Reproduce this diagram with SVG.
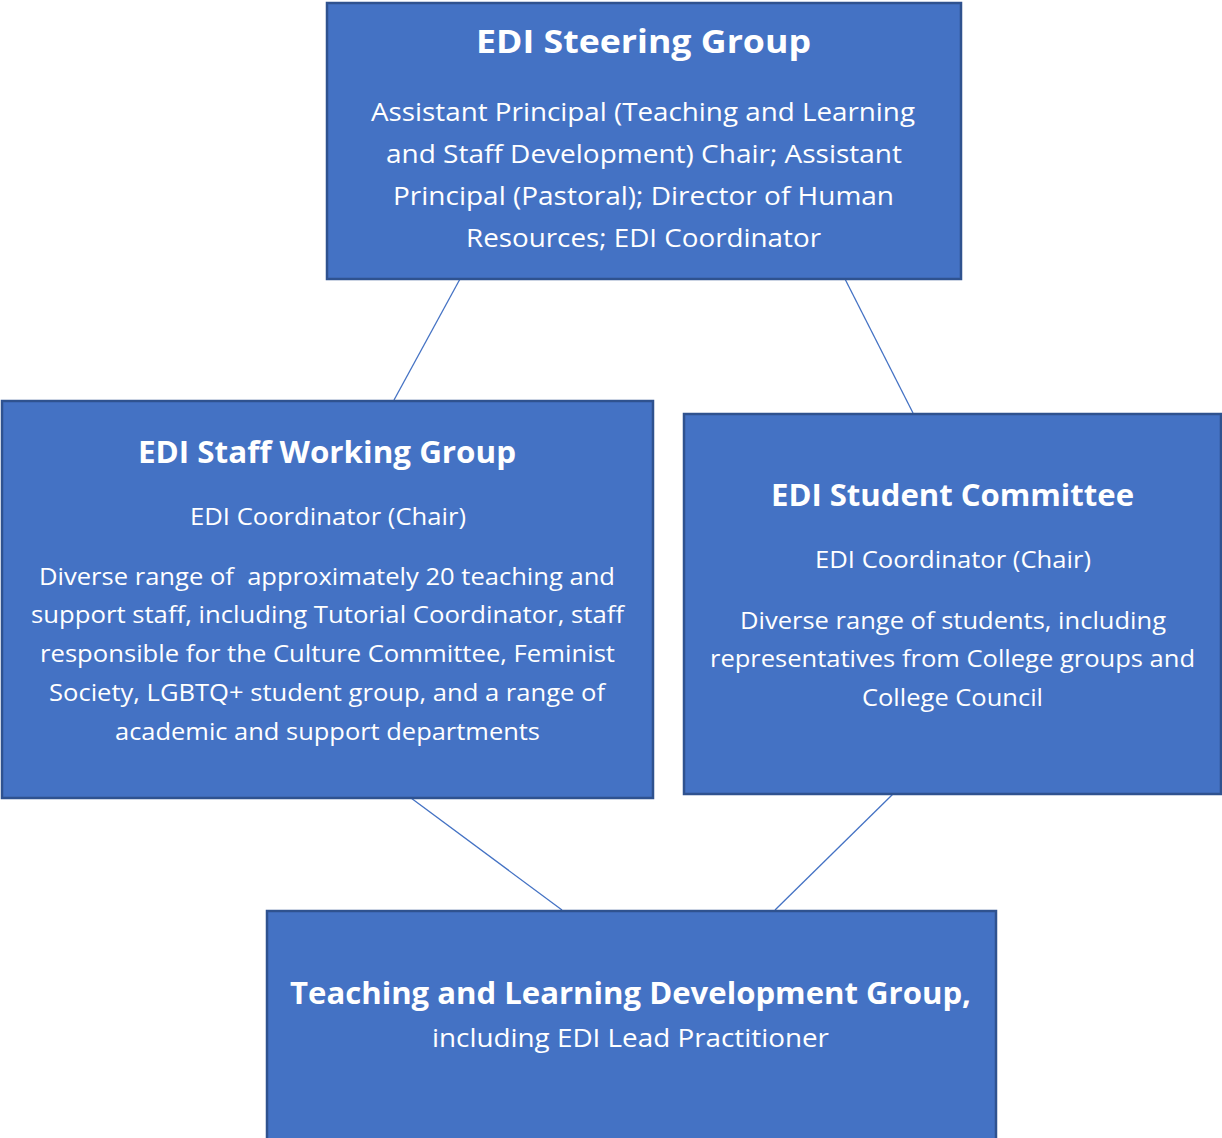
<svg xmlns="http://www.w3.org/2000/svg" width="1222" height="1138" viewBox="0 0 1222 1138">
<style>
.box{fill:#4472C4;stroke:#2F528F;stroke-width:2.5}
.t{font-family:"Open Sans","Liberation Sans",sans-serif;fill:#fff;text-anchor:middle}
.h{font-weight:bold}
.c{stroke:#4472C4;stroke-width:1.3;fill:none}
</style>
<rect width="1222" height="1138" fill="#fff"/>
<g id="connectors">
<line class="c" x1="460" y1="279" x2="394" y2="400"/>
<line class="c" x1="845" y1="279" x2="913" y2="413"/>
<line class="c" x1="411" y1="798" x2="562" y2="910"/>
<line class="c" x1="893" y1="794" x2="775" y2="910"/>
</g>
<g id="steering">
<rect class="box" x="327" y="3" width="634" height="276"/>
<text class="t h" x="643.5" y="53" font-size="32" textLength="335" lengthAdjust="spacingAndGlyphs">EDI Steering Group</text>
<text class="t" x="643" y="121" font-size="25" textLength="544" lengthAdjust="spacingAndGlyphs">Assistant Principal (Teaching and Learning</text>
<text class="t" x="644" y="163" font-size="25" textLength="516" lengthAdjust="spacingAndGlyphs">and Staff Development) Chair; Assistant</text>
<text class="t" x="643.5" y="205" font-size="25" textLength="501" lengthAdjust="spacingAndGlyphs">Principal (Pastoral); Director of Human</text>
<text class="t" x="643.5" y="247" font-size="25" textLength="355" lengthAdjust="spacingAndGlyphs">Resources; EDI Coordinator</text>
</g>
<g id="staff">
<rect class="box" x="2" y="401" width="651" height="397"/>
<text class="t h" x="327" y="463" font-size="30" textLength="378" lengthAdjust="spacingAndGlyphs">EDI Staff Working Group</text>
<text class="t" x="328" y="525" font-size="23.5" textLength="276" lengthAdjust="spacingAndGlyphs">EDI Coordinator (Chair)</text>
<text class="t" x="327" y="585" font-size="23.5" textLength="576" lengthAdjust="spacingAndGlyphs" xml:space="preserve">Diverse range of  approximately 20 teaching and</text>
<text class="t" x="327.5" y="623" font-size="23.5" textLength="593" lengthAdjust="spacingAndGlyphs">support staff, including Tutorial Coordinator, staff</text>
<text class="t" x="327.5" y="662" font-size="23.5" textLength="575" lengthAdjust="spacingAndGlyphs">responsible for the Culture Committee, Feminist</text>
<text class="t" x="327" y="701" font-size="23.5" textLength="556" lengthAdjust="spacingAndGlyphs">Society, LGBTQ+ student group, and a range of</text>
<text class="t" x="327.5" y="740" font-size="23.5" textLength="425" lengthAdjust="spacingAndGlyphs">academic and support departments</text>
</g>
<g id="student">
<rect class="box" x="684" y="414" width="537" height="380"/>
<text class="t h" x="952.5" y="506" font-size="30" textLength="363" lengthAdjust="spacingAndGlyphs">EDI Student Committee</text>
<text class="t" x="953" y="568" font-size="23.5" textLength="276" lengthAdjust="spacingAndGlyphs">EDI Coordinator (Chair)</text>
<text class="t" x="953" y="629" font-size="23.5" textLength="426" lengthAdjust="spacingAndGlyphs">Diverse range of students, including</text>
<text class="t" x="952.5" y="667" font-size="23.5" textLength="485" lengthAdjust="spacingAndGlyphs">representatives from College groups and</text>
<text class="t" x="952.5" y="706" font-size="23.5" textLength="181" lengthAdjust="spacingAndGlyphs">College Council</text>
</g>
<g id="tld">
<rect class="box" x="267" y="911" width="729" height="230"/>
<text class="t h" x="630.5" y="1004" font-size="30" textLength="681" lengthAdjust="spacingAndGlyphs">Teaching and Learning Development Group,</text>
<text class="t" x="630.5" y="1047" font-size="25" textLength="397" lengthAdjust="spacingAndGlyphs">including EDI Lead Practitioner</text>
</g>
</svg>
